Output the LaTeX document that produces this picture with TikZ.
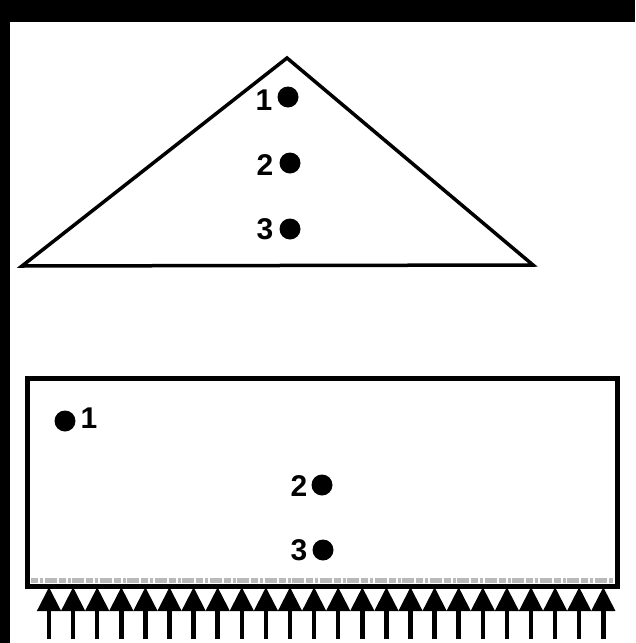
\documentclass[tikz,border=0pt]{standalone}
\usepackage{fontspec}
\setmainfont{Liberation Sans}
\usetikzlibrary{arrows.meta}
\begin{document}
\begin{tikzpicture}[x=1pt,y=-1pt,
  dot/.style={circle,fill=black,inner sep=0pt,minimum size=21pt},
  lbl/.style={font=\fontsize{30}{30}\selectfont\bfseries,inner sep=0pt},
  outline/.style={line width=3.5pt,line join=miter},
  boxline/.style={line width=5pt},
  upload/.style={line width=4.5pt,-{Triangle[width=23pt,length=24pt]}}]
\useasboundingbox (0,0) rectangle (635,643);
% scan border
\fill[black] (0,0) rectangle (635,22);
\fill[black] (0,0) rectangle (10,643);
% triangle
\coordinate (apex) at (287,58);
\coordinate (tr) at (533,265);
\coordinate (tl) at (22,266);
\draw[outline] (apex) -- (tr) -- (tl) -- cycle;
\node[dot] (td1) at (288,97) {};
\node[dot] (td2) at (290,163) {};
\node[dot] (td3) at (290,229) {};
\node[lbl] (tl1) at (264,100) {1};
\node[lbl] (tl2) at (265,165) {2};
\node[lbl] (tl3) at (265,229) {3};
% rectangle
\draw[gray!55,line width=5pt,dash pattern=on 7pt off 2pt on 3pt off 1.5pt on 12pt off 2pt] (31,580) -- (613,580);
\draw[boxline] (27,378) rectangle (617,586);
\node[dot] (rd1) at (65,421) {};
\node[dot] (rd2) at (322,485) {};
\node[dot] (rd3) at (323,550) {};
\node[lbl] (rl1) at (89,418) {1};
\node[lbl] (rl2) at (299,486) {2};
\node[lbl] (rl3) at (299,550) {3};
% load arrows
\foreach \i in {0,...,23}{
  \pgfmathsetmacro\xx{49+\i*24.1}
  \coordinate (t\i) at (\xx,587);
  \coordinate (b\i) at (\xx,639);
  \draw[upload] (b\i) -- (t\i);
}
\end{tikzpicture}
\end{document}
